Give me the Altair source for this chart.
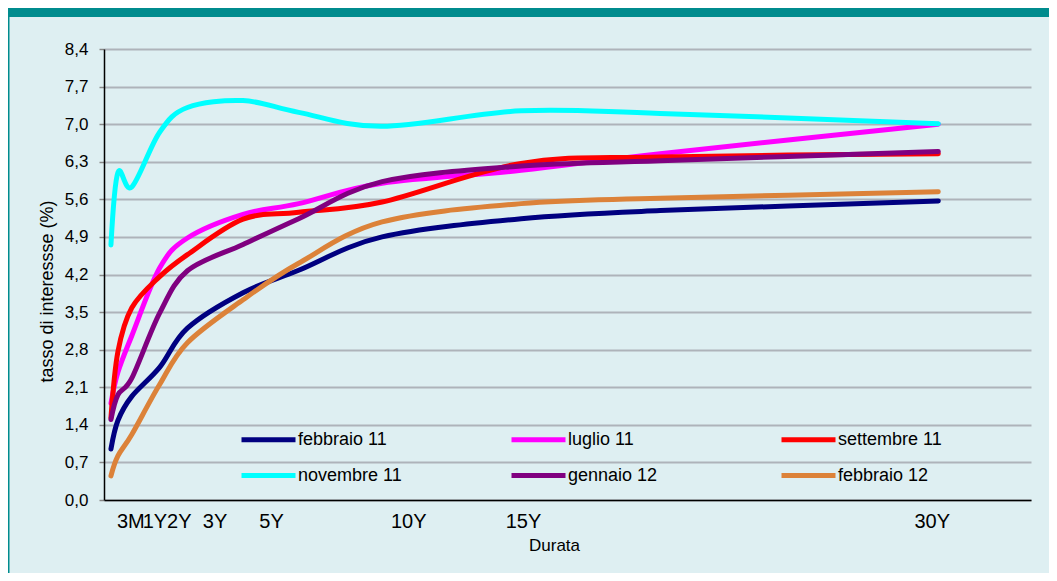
import altair as alt
import pandas as pd

# ---- data ----
months = [3, 6, 12, 24, 36, 60, 84, 120, 180, 240, 360]
series_names = ["febbraio 11", "luglio 11", "settembre 11", "novembre 11", "gennaio 12", "febbraio 12"]
feb11 = [0.95, 1.48, 1.93, 2.47, 3.20, 3.86, 4.28, 4.90, 5.24, 5.39, 5.57]
jul11 = [1.80, 2.38, 3.06, 4.32, 4.88, 5.32, 5.52, 5.90, 6.14, 6.45, 7.00]
sep11 = [1.53, 2.76, 3.58, 4.16, 4.57, 5.23, 5.36, 5.55, 6.27, 6.39, 6.45]
nov11 = [4.75, 6.10, 5.83, 6.85, 7.31, 7.44, 7.22, 6.96, 7.25, 7.20, 7.01]
jan12 = [1.50, 1.96, 2.27, 3.48, 4.27, 4.76, 5.24, 5.93, 6.22, 6.32, 6.49]
feb12 = [0.45, 0.82, 1.22, 2.15, 2.93, 3.73, 4.41, 5.18, 5.52, 5.62, 5.74]
series_values = [feb11, jul11, sep11, nov11, jan12, feb12]
series_colors = ["#000080", "#FF00FF", "#FF0000", "#00FFFF", "#800080", "#DC8239"]

y_ticks = [0.0, 0.7, 1.4, 2.1, 2.8, 3.5, 4.2, 4.9, 5.6, 6.3, 7.0, 7.7, 8.4]
x_tick_labels = ["3M", "1Y", "2Y", "3Y", "5Y", "10Y", "15Y", "30Y"]
x_tick_pos = [11.6, 22.0, 32.5, 47.9, 72.3, 131.5, 181.0, 357.4]

rows = []
for name, vals in zip(series_names, series_values):
    for m, v in zip(months, vals):
        rows.append({"series": name, "months": m, "rate": v})
df = pd.DataFrame(rows)
lab_df = pd.DataFrame({"label": x_tick_labels, "pos": x_tick_pos})
one = pd.DataFrame({"a": [0]})

FONT = "Liberation Sans"
BG = "#DEEFF2"
TEAL = "#008C8E"

xscale = alt.Scale(domain=[0, 400], nice=False, zero=True)
yscale = alt.Scale(domain=[0, 8.4], nice=False)

band = alt.Chart(one).mark_rect(color=TEAL).encode(
    x=alt.value(-96), x2=alt.value(945), y=alt.value(-41), y2=alt.value(-32)
)
border = alt.Chart(one).mark_rect(color=TEAL).encode(
    x=alt.value(-96), x2=alt.value(-94.5), y=alt.value(-41), y2=alt.value(524)
)

lines = alt.Chart(df).mark_line(
    strokeWidth=5, strokeCap="round", strokeJoin="round", interpolate="cardinal"
).encode(
    x=alt.X("months:Q", scale=xscale, title="Durata",
            axis=alt.Axis(labels=False, ticks=False, grid=False, domainColor="black",
                          domainWidth=1.5, title="Durata", titleFont=FONT, titleFontSize=17,
                          titleFontWeight="normal", titleColor="black",
                          titleX=450, titleY=45, titleBaseline="middle")),
    y=alt.Y("rate:Q", scale=yscale, title="tasso di interessse (%)",
            axis=alt.Axis(values=y_ticks,
                          labelExpr="replace(format(datum.value, '.1f'), '.', ',')",
                          grid=True, gridColor="#AEB3BA", gridWidth=2,
                          domainColor="black", domainWidth=1.5,
                          tickColor="#888888", tickSize=5, tickWidth=1.5,
                          labelPadding=11, labelFont=FONT, labelFontSize=17, labelColor="black",
                          title="tasso di interessse (%)", titleFont=FONT, titleFontSize=18,
                          titleFontWeight="normal", titleColor="black",
                          titleX=-57, titleY=242, titleBaseline="middle", titleAlign="center")),
    color=alt.Color("series:N", sort=series_names,
                    scale=alt.Scale(domain=series_names, range=series_colors),
                    legend=alt.Legend(orient="none", legendX=153, legendY=379, columns=3,
                                      direction="horizontal",
                                      gridAlign="all", columnPadding=99, rowPadding=14,
                                      symbolType="M-3,0H3", symbolSize=324, symbolStrokeWidth=5,
                                      labelFont=FONT, labelFontSize=18, labelColor="black",
                                      labelOffset=18, labelLimit=300, title=None)),
    order=alt.Order("months:Q"),
)

labels = alt.Chart(lab_df).mark_text(
    font=FONT, fontSize=20, color="black", baseline="middle", align="center"
).encode(
    x=alt.X("pos:Q", scale=xscale, title="Durata"),
    y=alt.value(472.5),
    text="label:N",
)

chart = alt.layer(band, border, lines, labels).properties(
    width=927, height=451,
    padding={"left": 96, "top": 41, "right": 18, "bottom": 73},
    autosize=alt.AutoSizeParams(type="none"),
    background=BG,
).configure_view(stroke=None)

chart.save("out.html", embed_options={"renderer": "svg", "actions": False})
